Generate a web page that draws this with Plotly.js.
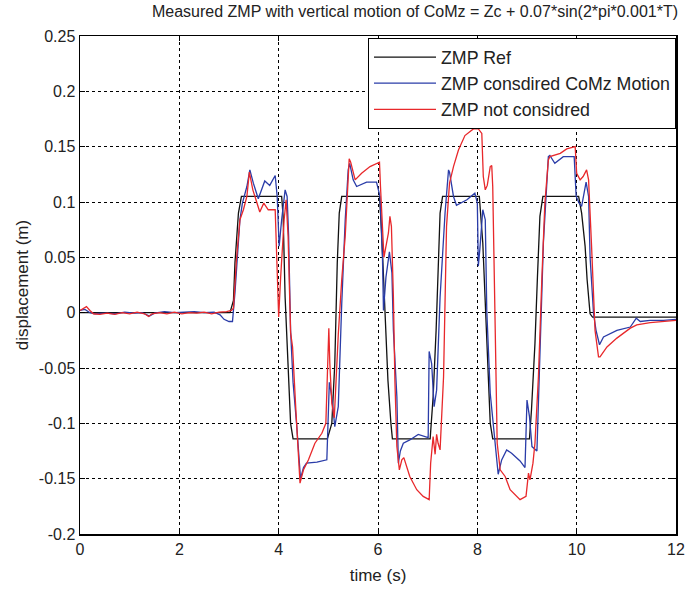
<!DOCTYPE html>
<html>
<head>
<meta charset="utf-8">
<script src="https://cdn.plot.ly/plotly-3.0.1.min.js"></script>
<style>html,body{margin:0;padding:0;background:#fff;}#chart{width:686px;height:589px;}</style>
</head>
<body>
<div id="chart"></div>
<script>
// ZMP reference
var timeRef = [0,2.95,3.02,3.09,3.12,3.19,3.25,
  4.06,4.09,4.13,4.19,4.24,4.29,
  4.98,5.07,5.13,5.18,5.22,5.27,
  6.03,6.07,6.14,6.2,6.26,6.29,
  7.05,7.11,7.17,7.21,7.25,7.3,
  8.04,8.11,8.15,8.2,8.26,8.31,
  9.05,9.09,9.16,9.21,9.26,9.32,
  10.04,10.1,10.17,10.21,10.27,10.32,12];
var zmpRef = [0,0,0,0.011,0.045,0.09,0.105,
  0.105,0.087,0.014,-0.046,-0.1,-0.114,
  -0.114,-0.1,-0.046,0.045,0.09,0.105,
  0.105,0.075,-0.001,-0.061,-0.1,-0.114,
  -0.114,-0.076,-0.016,0.045,0.09,0.105,
  0.105,0.063,0.018,-0.043,-0.1,-0.114,
  -0.114,-0.088,-0.028,0.032,0.087,0.105,
  0.105,0.09,0.06,0.03,-0.001,-0.004,-0.004];

// ZMP considering CoMz motion
var timeCom = [0,0.1,0.2,0.3,0.5,0.7,0.9,1.1,1.25,1.4,1.5,1.7,1.9,2.1,2.3,2.5,2.7,2.82,2.9,3.0,3.07,
  3.12,3.18,3.22,3.27,3.36,3.42,3.49,3.59,3.66,3.72,3.82,3.93,3.97,4.01,4.06,4.13,4.17,4.2,
  4.24,4.29,4.36,4.41,4.44,4.5,4.56,4.77,4.95,4.97,5.02,5.07,5.13,5.2,5.27,5.34,5.4,5.43,
  5.5,5.57,5.77,5.97,6.04,6.09,6.11,6.16,6.23,6.28,6.31,6.38,6.41,6.45,6.51,6.64,6.81,7.01,
  7.03,7.08,7.13,7.18,7.25,7.35,7.42,7.44,7.52,7.58,7.79,7.95,8.0,8.02,8.05,8.11,8.16,8.19,
  8.26,8.32,8.42,8.49,8.59,8.69,8.86,8.96,9.0,9.05,9.1,9.2,9.26,9.33,9.43,9.46,9.56,9.73,
  9.95,9.99,10.05,10.1,10.19,10.24,10.27,10.34,10.39,10.46,10.54,10.81,11.08,11.2,11.28,11.48,11.75,12];
var zmpCom = [0.002,0.003,0,-0.001,-0.0005,-0.001,0.0005,-0.0005,0,-0.003,-0.0005,0.001,0,0.0005,0.001,0,0.0005,-0.002,-0.006,-0.008,-0.008,
  0.018,0.06,0.084,0.099,0.114,0.129,0.117,0.103,0.112,0.119,0.115,0.124,0.105,0.06,0.084,0.111,0.105,0.07,
  -0.016,-0.063,-0.1,-0.133,-0.15,-0.14,-0.136,-0.135,-0.133,-0.133,-0.063,-0.076,-0.103,-0.085,0.008,0.084,0.129,0.135,
  0.12,0.114,0.118,0.118,0.105,0.05,0.002,0.032,0.055,0.036,-0.016,-0.076,-0.136,-0.125,-0.118,-0.115,-0.11,-0.113,
  -0.035,-0.046,-0.085,-0.07,0.014,0.09,0.129,0.127,0.105,0.097,0.102,0.108,0.099,0.042,0.057,0.093,0.084,0.002,
  -0.073,-0.103,-0.146,-0.133,-0.124,-0.127,-0.134,-0.14,-0.079,-0.094,-0.121,-0.125,-0.028,0.063,0.141,0.142,0.135,0.141,
  0.141,0.105,0.099,0.096,0.118,0.105,0.05,-0.001,-0.016,-0.029,-0.022,-0.016,-0.013,-0.005,-0.008,-0.007,-0.007,-0.006];

// ZMP not considering CoMz motion
var timeNot = [0,0.07,0.13,0.2,0.27,0.4,0.55,0.7,0.85,1.0,1.15,1.3,1.38,1.45,1.6,1.75,1.9,2.05,2.2,2.35,2.5,2.65,2.8,2.95,3.05,
  3.09,3.15,3.22,3.29,3.36,3.41,3.48,3.56,3.62,3.7,3.79,3.93,3.96,4.0,4.04,4.11,4.15,4.19,4.24,4.28,4.35,4.4,4.43,4.5,4.6,
  4.73,4.87,4.95,4.98,5.01,5.03,5.07,5.12,5.2,5.27,5.34,5.42,5.45,5.54,5.67,5.84,6.03,6.05,6.09,6.12,6.16,6.21,6.24,6.27,
  6.31,6.34,6.38,6.43,6.48,6.52,6.64,6.78,6.91,7.03,7.06,7.11,7.15,7.18,7.21,7.25,7.32,7.35,7.38,7.44,7.52,7.62,7.75,7.92,
  8.02,8.09,8.12,8.16,8.2,8.26,8.29,8.31,8.34,8.38,8.4,8.46,8.56,8.66,8.86,8.98,9.03,9.06,9.12,9.16,9.23,9.3,9.36,9.43,
  9.46,9.67,9.8,9.97,10.0,10.07,10.13,10.2,10.24,10.3,10.37,10.44,10.47,10.61,10.81,11.08,11.21,11.48,11.75,12];
var zmpNot = [0.002,0.004,0.0055,0.002,-0.001,-0.0015,-0.0005,-0.0015,0,-0.001,0.0005,-0.001,-0.0035,-0.001,0,-0.001,0.0005,-0.001,0,-0.0005,0.0005,-0.001,0.0005,0.001,0.002,
  0.004,0.048,0.084,0.093,0.105,0.127,0.111,0.099,0.091,0.099,0.093,0.093,0.054,-0.004,0.032,0.084,0.102,0.069,-0.018,-0.031,-0.091,-0.136,-0.154,-0.142,-0.133,
  -0.118,-0.109,-0.1,-0.046,-0.014,-0.046,-0.082,-0.095,-0.02,0.03,0.069,0.139,0.136,0.12,0.126,0.132,0.136,0.114,0.075,0.05,0.06,0.072,0.087,0.078,
  0.014,-0.061,-0.121,-0.142,-0.133,-0.131,-0.148,-0.16,-0.166,-0.169,-0.136,-0.112,-0.128,-0.11,-0.118,-0.124,-0.058,0.002,0.078,0.117,0.132,0.147,0.16,0.166,
  0.166,0.162,0.123,0.111,0.115,0.132,0.133,0.114,0.032,-0.058,-0.118,-0.142,-0.148,-0.16,-0.169,-0.166,-0.145,-0.151,-0.136,-0.118,-0.058,0.032,0.099,0.138,
  0.141,0.144,0.148,0.15,0.126,0.12,0.123,0.129,0.12,0.06,-0.016,-0.04,-0.04,-0.031,-0.023,-0.014,-0.011,-0.009,-0.008,-0.007];

var seriesNames = ['ZMP Ref','ZMP consdired CoMz Motion','ZMP not considred'];
var xTickVals = [0,2,4,6,8,10,12];
var yTickVals = [0.25,0.2,0.15,0.1,0.05,0,-0.05,-0.1,-0.15,-0.2];
var yTickText = ['0.25','0.2','0.15','0.1','0.05','0','-0.05','-0.1','-0.15','-0.2'];

var font = 'Liberation Sans, Arial, sans-serif';
var traces = [
  {x: timeRef, y: zmpRef, name: seriesNames[0], mode: 'lines', line: {color: '#111111', width: 1.3}},
  {x: timeCom, y: zmpCom, name: seriesNames[1], mode: 'lines', line: {color: '#2a3ca8', width: 1.3}},
  {x: timeNot, y: zmpNot, name: seriesNames[2], mode: 'lines', line: {color: '#e8282b', width: 1.3}}
];
var axisCommon = {
  showline: true, linecolor: '#000', linewidth: 1.5, mirror: 'ticks',
  ticks: 'inside', ticklen: 5, tickcolor: '#000', tickwidth: 1,
  showgrid: true, gridcolor: '#000', gridwidth: 1, griddash: '3px,3px',
  zeroline: false, tickfont: {family: font, size: 16, color: '#222'}
};
var layout = {
  width: 686, height: 589,
  paper_bgcolor: '#fff', plot_bgcolor: '#fff',
  margin: {l: 80, r: 10, t: 36, b: 55},
  title: {text: 'Measured ZMP with vertical motion of CoMz = Zc + 0.07*sin(2*pi*0.001*T)',
    font: {family: font, size: 16, color: '#222'}, x: 0.605, xanchor: 'center', y: 0.98, yanchor: 'middle'},
  xaxis: Object.assign({}, axisCommon, {range: [0, 12], tickvals: xTickVals,
    title: {text: 'time (s)', font: {family: font, size: 17, color: '#222'}, standoff: 12}}),
  yaxis: Object.assign({}, axisCommon, {range: [-0.2, 0.25], tickvals: yTickVals, ticktext: yTickText,
    title: {text: 'displacement (m)', font: {family: font, size: 17, color: '#222'}, standoff: 6}}),
  showlegend: true,
  legend: {x: 1, xanchor: 'right', y: 0.996, yanchor: 'top', bgcolor: '#fff', bordercolor: '#000', borderwidth: 1,
    font: {family: font, size: 17.8, color: '#222'}, itemwidth: 62}
};
Plotly.newPlot('chart', traces, layout, {displayModeBar: false, staticPlot: true});
</script>
</body>
</html>
